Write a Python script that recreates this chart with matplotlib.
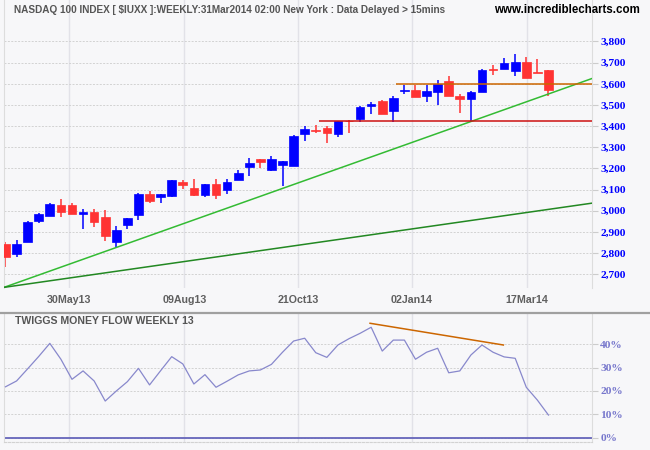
import numpy as np
import matplotlib
matplotlib.use('Agg')
import matplotlib.pyplot as plt

# weekly candles, NASDAQ 100
opens = [2843, 2796, 2854, 2953, 2977, 3026, 3027, 2985, 2994, 2970,
         2854, 2933, 2980, 3079, 3066, 3071, 3137, 3107, 3076, 3126,
         3098, 3145, 3207, 3244, 3192, 3216, 3213, 3362, 3382, 3391,
         3362, 3425, 3436, 3496, 3518, 3472, 3567, 3570, 3543, 3562,
         3613, 3542, 3526, 3562, 3670, 3671, 3661, 3704, 3655, 3665]
highs = [2854, 2862, 2950, 2989, 3037, 3055, 3035, 3007, 3007, 3004,
         2928, 2966, 3082, 3093, 3079, 3145, 3145, 3150, 3126, 3148,
         3148, 3192, 3248, 3246, 3260, 3236, 3358, 3400, 3405, 3400,
         3426, 3428, 3495, 3513, 3523, 3542, 3594, 3594, 3594, 3617,
         3636, 3551, 3565, 3668, 3688, 3723, 3741, 3727, 3716, 3665]
lows = [2736, 2783, 2854, 2944, 2975, 2969, 2983, 2914, 2922, 2857,
        2830, 2914, 2956, 3038, 3035, 3066, 3101, 3071, 3066, 3055,
        3079, 3145, 3164, 3203, 3189, 3117, 3211, 3331, 3366, 3321,
        3347, 3366, 3420, 3455, 3458, 3420, 3554, 3538, 3515, 3499,
        3543, 3463, 3420, 3562, 3641, 3668, 3636, 3628, 3649, 3542]
closes = [2783, 2843, 2945, 2985, 3032, 2994, 2985, 2996, 2948, 2882,
          2909, 2966, 3079, 3047, 3079, 3145, 3123, 3076, 3126, 3076,
          3134, 3180, 3227, 3229, 3244, 3236, 3353, 3386, 3378, 3369,
          3424, 3422, 3488, 3504, 3458, 3532, 3573, 3538, 3565, 3597,
          3543, 3526, 3562, 3665, 3667, 3699, 3704, 3628, 3652, 3570]

# twiggs money flow (%)
tmf = [21.8, 24.3, 29.5, 34.8, 40.4, 33.6, 25.0, 28.6, 24.3, 15.7,
       20.0, 24.0, 29.7, 22.6, 28.7, 34.7, 31.6, 23.0, 27.0, 21.6,
       24.2, 26.9, 28.6, 29.0, 31.4, 36.6, 41.4, 42.6, 36.4, 34.4,
       39.7, 42.4, 44.7, 47.3, 37.1, 41.8, 41.8, 33.6, 36.6, 38.3,
       27.8, 28.6, 35.4, 39.7, 36.6, 34.6, 34.0, 21.6, 16.1, 9.7]

date_labels = ['30May13', '09Aug13', '21Oct13', '02Jan14', '17Mar14']
date_pos = [5.73, 16.14, 26.4, 36.66, 47.09]

price_ticks = list(range(2700, 3801, 100))
tmf_ticks = [0, 10, 20, 30, 40]

# drawn lines
support_level = 3422
support_start = 28.3
resist_level = 3598
resist_start = 35.2
trend_x = [-0.135, 52.93]
trend_steep = [2638, 3625]
trend_flat = [2638, 3036]
tmf_trend_x = [32.9, 44.93]
tmf_trend_y = [49.0, 39.7]

xmin, xmax = -0.135, 52.93

bg = '#f7f7f9'
fig = plt.figure(figsize=(6.5, 4.5), dpi=100, facecolor=bg)
ax1 = fig.add_axes([4/650, 162/450, 588/650, 288/450], facecolor=bg)
ax2 = fig.add_axes([4/650, 8/450, 588/650, 129/450], facecolor=bg)

x = np.arange(len(opens))
o = np.array(opens)
c = np.array(closes)
up = c >= o
cols = np.where(up, '#0000ff', '#ff3333')

# wicks then bodies
ax1.vlines(x, lows, highs, colors=cols, linewidth=1.1, zorder=2)
body_h = np.maximum(np.abs(c - o), 3)
ax1.bar(x, body_h, bottom=np.minimum(o, c), width=0.78, color=cols,
        edgecolor=cols, linewidth=0.5, zorder=3)

ax1.plot(trend_x, trend_steep, color='#33bb33', lw=1.1, zorder=4)
ax1.plot(trend_x, trend_flat, color='#228822', lw=1.1, zorder=4)
ax1.hlines(support_level, support_start, xmax, color='#cc1111', lw=1.1, zorder=4)
ax1.hlines(resist_level, resist_start, xmax, color='#cc6600', lw=1.1, zorder=4)

ax1.set_xlim(xmin, xmax)
ax1.set_ylim(2635, 3996)

# lower panel
ax2.plot(x, tmf, color='#8888cc', lw=0.9, zorder=3)
ax2.axhline(0, color='#6666bb', lw=1.3, zorder=2)
ax2.plot(tmf_trend_x, tmf_trend_y, color='#cc6600', lw=1.1, zorder=4)
ax2.set_xlim(xmin, xmax)
ax2.set_ylim(-1.84, 53.4)

for ax in (ax1, ax2):
    ax.set_xticks(date_pos)
    ax.grid(axis='x', color='#e2e2e8', lw=1, linestyle='-')
    ax.grid(axis='y', color='#d2d2d2', lw=0.7, linestyle=(0, (2, 1.5)))
    ax.set_axisbelow(True)
    ax.yaxis.tick_right()
    ax.spines['top'].set_visible(False)
    ax.spines['bottom'].set_visible(False)
    ax.spines['left'].set_color('#dddddd')
    ax.spines['right'].set_color('#dddddd')
    ax.tick_params(axis='y', length=4, color='#cccccc', pad=2)
    ax.tick_params(axis='x', length=0)

ax1.set_xticklabels(date_labels, fontsize=7.7, fontweight='bold', color='#606060',
                    family=['Liberation Sans', 'DejaVu Sans'])
ax1.tick_params(axis='x', pad=5)
ax2.set_xticklabels([])

ax1.set_yticks(price_ticks)
ax1.set_yticklabels([f'{v:,}' for v in price_ticks], fontsize=8.2, fontweight='bold',
                    color='#0000ff', family=['Liberation Serif', 'DejaVu Serif'])
ax2.set_yticks(tmf_ticks)
ax2.set_yticklabels([f'{v}%' for v in tmf_ticks], fontsize=8.2, fontweight='bold',
                    color='#7777cc', family=['Liberation Serif', 'DejaVu Serif'])
ax2.spines['bottom'].set_visible(True)
ax2.spines['bottom'].set_color('#d2d2d2')
ax2.spines['bottom'].set_linestyle((0, (2, 1.5)))

# separator between panels
fig.add_artist(plt.Line2D([0, 1], [1 - 313/450, 1 - 313/450], color='#a0a0a0', lw=1.6))

fig.text(14/650, 1 - 10/450,
         'NASDAQ 100 INDEX [ $IUXX ]:WEEKLY:31Mar2014 02:00 New York : Data Delayed > 15mins',
         fontsize=7.2, fontweight='bold', color='#555555', va='center',
         family=['Liberation Sans', 'DejaVu Sans'])
fig.text(640/650, 1 - 10/450, 'www.incrediblecharts.com', fontsize=8.3,
         fontweight='bold', color='#000000', va='center', ha='right',
         family=['Liberation Sans', 'DejaVu Sans'])
fig.text(15/650, 1 - 321/450, 'TWIGGS MONEY FLOW WEEKLY 13', fontsize=7.6,
         fontweight='bold', color='#555555', va='center',
         family=['Liberation Sans', 'DejaVu Sans'])

fig.savefig('out.png', dpi=100, facecolor=bg)
